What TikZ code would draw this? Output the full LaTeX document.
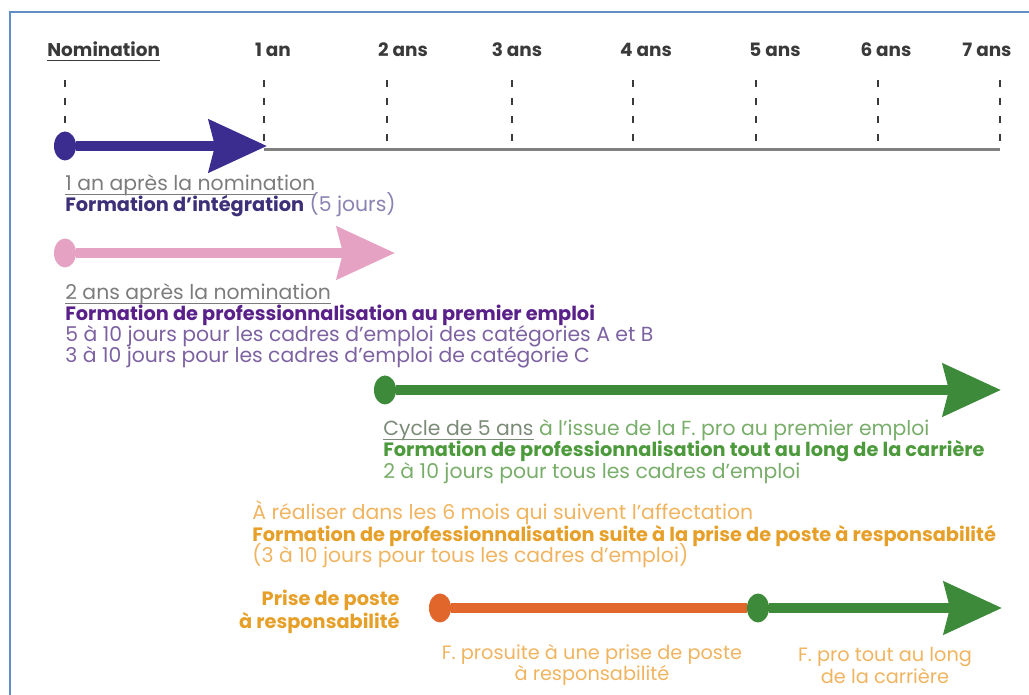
\documentclass[tikz,border=0pt]{standalone}
\usepackage{fontspec}
\setmainfont{Poppins}
\usepackage{tikz}
\usetikzlibrary{arrows.meta,shapes.geometric}
\definecolor{cadre}{HTML}{5F8FC6}
\definecolor{gristxt}{HTML}{3A3A3A}
\definecolor{grisclair}{HTML}{7C7C7C}
\definecolor{axe}{HTML}{808080}
\definecolor{bleu}{HTML}{3A2D8F}
\definecolor{bleutxt}{HTML}{3D2F78}
\definecolor{bleuclair}{HTML}{8C82B2}
\definecolor{rose}{HTML}{E6A2C3}
\definecolor{violet}{HTML}{5A208A}
\definecolor{violetclair}{HTML}{7D62A2}
\definecolor{vert}{HTML}{3C8A3A}
\definecolor{verttxt}{HTML}{4C9A3C}
\definecolor{vertclair}{HTML}{78AE6A}
\definecolor{orange}{HTML}{E0662C}
\definecolor{ortxt}{HTML}{E6A02A}
\definecolor{orclair}{HTML}{F0B460}
\newcommand{\souligne}[1]{\setbox0=\hbox{#1}%
  \rlap{\rule[-2.4pt]{\wd0}{0.5pt}}\box0}
\newcommand{\gras}[1]{{\fontsize{11}{12}\selectfont\bfseries #1}}
\tikzstyle{bigdot}=[ellipse,inner sep=0pt,
                    minimum width=4.4mm,minimum height=5.8mm]
\tikzstyle{bigarrow}=[line width=2mm,
                      -{Stealth[length=11.6mm,width=10.4mm,inset=1.2mm]}]
\tikzstyle{tiret}=[line width=0.45mm,dash pattern=on 1.4mm off 2.2mm,gristxt]
\tikzstyle{annee}=[anchor=base,inner sep=0pt,gristxt,
                   font=\fontsize{10.5}{12}\selectfont\bfseries]
\tikzstyle{txt}=[anchor=base west,inner sep=0pt,
                 font=\fontsize{11.6}{12}\selectfont]
\tikzstyle{deuxlignes}=[inner sep=0pt,font=\fontsize{11}{11.4pt}\selectfont]

\begin{document}
\begin{tikzpicture}[x=0.02cm,y=-0.02cm]
    \useasboundingbox (0,0) rectangle (1029,695);
    \draw[cadre,line width=0.5mm] (10,695) -- (10,12) -- (1029,12);
    % axe des annees
    \node[annee,anchor=base west] (a0) at (47,57) {\souligne{Nomination}};
    \coordinate (h0) at (65,80);
    \coordinate (b0) at (65,141);
    \draw[tiret] (h0) -- (b0);
    \foreach \i/\x/\lx/\lab in {1/264/273/1 an, 2/387/403/2 ans,
                                3/512/517/3 ans, 4/633/646/4 ans,
                                5/756/775/5 ans, 6/878/886/6 ans,
                                7/1000/987/7 ans} {
      \node[annee] (a\i) at (\lx,57) {\lab};
      \coordinate (h\i) at (\x,80);
      \coordinate (b\i) at (\x,141);
      \coordinate (p\i) at (\x,150);
      \draw[tiret] (h\i) -- (b\i);
    }
    \draw[axe,line width=0.6mm] (p1) -- (p7);

    % formation d'integration
    \node (d1) at (65,146) [bigdot,fill=bleu]{};
    \coordinate (f1) at (267,146);
    \draw[bigarrow,bleu] (d1) -- (f1);
    \node[txt,grisclair] (l1a) at (65,191) {\souligne{1 an après la nomination}};
    \node[txt,bleutxt] (l1b) at (65,212)
      {\gras{Formation d’intégration} {\color{bleuclair}(5 jours)}};

    % premier emploi
    \node (d2) at (65,253) [bigdot,fill=rose]{};
    \coordinate (f2) at (395,253);
    \draw[bigarrow,rose] (d2) -- (f2);
    \node[txt,grisclair] (l2a) at (65,300) {\souligne{2 ans après la nomination}};
    \node[txt,violet] (l2b) at (65,321)
      {\gras{Formation de professionnalisation au premier emploi}};
    \node[txt,violetclair] (l2c) at (65,342)
      {5 à 10 jours pour les cadres d’emploi des catégories A et B};
    \node[txt,violetclair] (l2d) at (65,363)
      {3 à 10 jours pour les cadres d’emploi de catégorie C};

    % tout au long de la carriere
    \node (d3) at (385,390) [bigdot,fill=vert]{};
    \coordinate (f3) at (1001,390);
    \draw[bigarrow,vert] (d3) -- (f3);
    \node[txt,vertclair] (l3a) at (383,436)
      {{\color{grisclair!70!vertclair}\souligne{Cycle de 5 ans}} à l’issue de la F. pro au premier emploi};
    \node[txt,verttxt] (l3b) at (383,457)
      {\gras{Formation de professionnalisation tout au long de la carrière}};
    \node[txt,vertclair] (l3c) at (383,479)
      {2 à 10 jours pour tous les cadres d’emploi};

    % prise de poste a responsabilite
    \node[txt,orclair] (l4a) at (252,520)
      {À réaliser dans les 6 mois qui suivent l’affectation};
    \node[txt,ortxt] (l4b) at (252,542)
      {\gras{Formation de professionnalisation suite à la prise de poste à responsabilité}};
    \node[txt,orclair] (l4c) at (252,563)
      {(3 à 10 jours pour tous les cadres d’emploi)};
    \node[deuxlignes,ortxt,anchor=east,align=right,
          font=\fontsize{11}{11.4pt}\selectfont\bfseries] (prise) at (400,612)
      {Prise de poste\\à responsabilité};
    \node (d4) at (440,608) [bigdot,fill=orange]{};
    \node (d5) at (758,608) [bigdot,fill=vert]{};
    \coordinate (f5) at (1002,608);
    \draw[orange,line width=2mm] (d4) -- (d5);
    \draw[bigarrow,vert] (d5) -- (f5);
    \node[deuxlignes,orclair,align=center] (l5) at (592,665)
      {F. prosuite à une prise de poste\\à responsabilité};
    \node[deuxlignes,orclair,align=center] (l6) at (885,665)
      {F. pro tout au long\\de la carrière};
  \end{tikzpicture}
\end{document}
